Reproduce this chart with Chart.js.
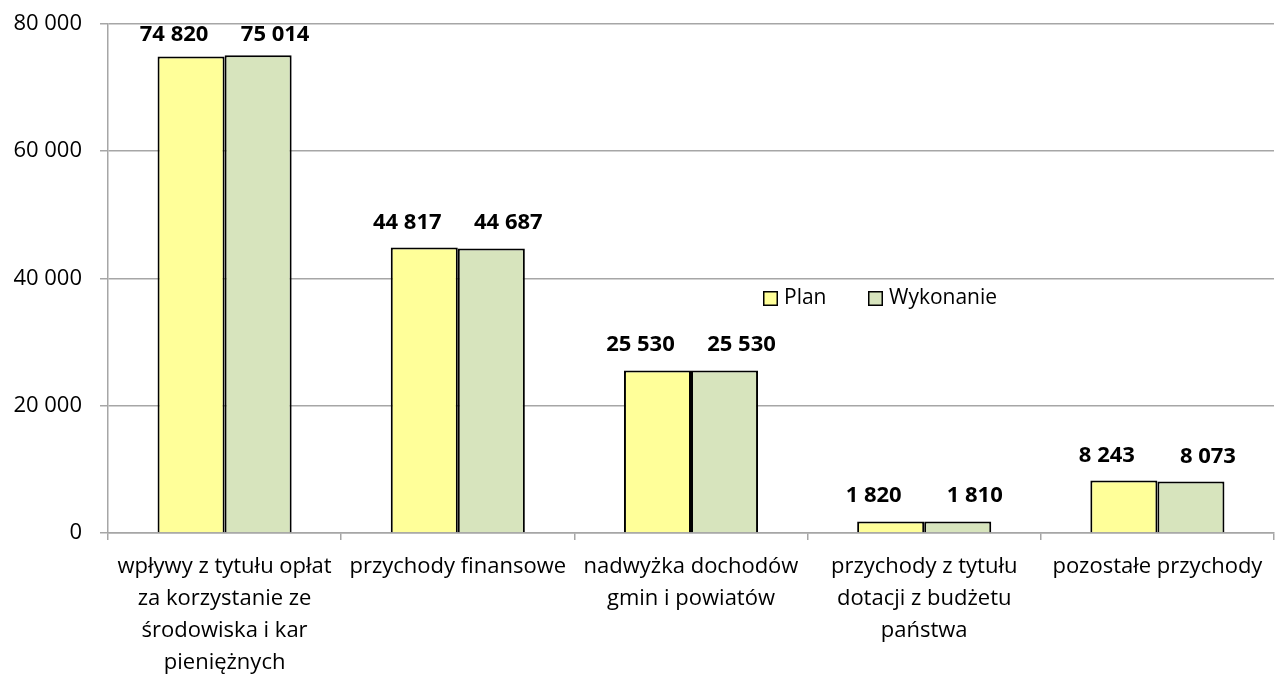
<!DOCTYPE html>
<html><head><meta charset="utf-8">
<script src="https://cdn.jsdelivr.net/npm/chart.js@4.4.1/dist/chart.umd.min.js"></script>
<style>html,body{margin:0;padding:0;background:#fff}#wrap{width:1282px;height:677px}</style>
</head><body><div id="wrap"><canvas id="c" width="1282" height="677"></canvas></div>
<script>
const categories = [
  ["wpływy z tytułu opłat","za korzystanie ze","środowiska i kar","pieniężnych"],
  ["przychody finansowe"],
  ["nadwyżka dochodów","gmin i powiatów"],
  ["przychody z tytułu","dotacji z budżetu","państwa"],
  ["pozostałe przychody"]
];
const planValues = [74820, 44817, 25530, 1820, 8243];
const wykonanieValues = [75014, 44687, 25530, 1810, 8073];
const seriesNames = ["Plan", "Wykonanie"];
const yTicks = [0, 20000, 40000, 60000, 80000];

const fmt = v => String(Math.round(v)).replace(/\B(?=(\d{3})+(?!\d))/g, ' ');
const FONT = "'Open Sans', 'Liberation Sans', sans-serif";

const dataLabels = {
  id: 'dataLabels',
  afterDatasetsDraw(chart) {
    const ctx = chart.ctx;
    const top = chart.chartArea.top;
    ctx.save();
    ctx.font = "bold 22px " + FONT;
    ctx.fillStyle = '#000';
    ctx.textAlign = 'center';
    ctx.textBaseline = 'alphabetic';
    chart.data.datasets.forEach((ds, i) => {
      const shift = i === 0 ? -17 : 17;
      chart.getDatasetMeta(i).data.forEach((bar, j) => {
        const y = Math.max(bar.y - 19, top + 17);
        ctx.fillText(fmt(ds.data[j]), bar.x + shift, y);
      });
    });
    ctx.restore();
  }
};

const innerLegend = {
  id: 'innerLegend',
  afterDraw(chart) {
    const ctx = chart.ctx;
    ctx.save();
    ctx.font = "21px " + FONT;
    ctx.textBaseline = 'middle';
    const y = 298.5;
    const xs = [763, 868];
    chart.data.datasets.forEach((ds, i) => {
      const x = xs[i];
      ctx.fillStyle = ds.backgroundColor;
      ctx.fillRect(x, y - 7.5, 15, 15);
      ctx.strokeStyle = '#000';
      ctx.lineWidth = 1.5;
      ctx.strokeRect(x + 0.75, y - 6.75, 13.5, 13.5);
      ctx.fillStyle = '#000';
      ctx.textAlign = 'left';
      ctx.fillText(ds.label, x + 21, y);
    });
    ctx.restore();
  }
};

new Chart(document.getElementById('c'), {
  type: 'bar',
  data: {
    labels: categories,
    datasets: [
      { label: seriesNames[0], data: planValues, backgroundColor: '#FFFF99', borderColor: '#000', borderWidth: 2 },
      { label: seriesNames[1], data: wykonanieValues, backgroundColor: '#D7E4BD', borderColor: '#000', borderWidth: 2 }
    ]
  },
  options: {
    responsive: false,
    animation: false,
    devicePixelRatio: 1,
    layout: { padding: { left: 0, right: 8, top: 0, bottom: 0 } },
    plugins: { legend: { display: false }, tooltip: { enabled: false } },
    datasets: { bar: { categoryPercentage: 0.575, barPercentage: 1.0 } },
    scales: {
      x: {
        grid: { offset: true, drawOnChartArea: false, drawTicks: true, tickLength: 7, color: '#A6A6A6', lineWidth: 1.5 },
        border: { color: '#A6A6A6', width: 1.5 },
        ticks: { color: '#000', font: { family: FONT, size: 22, lineHeight: 1.45 }, padding: 11, maxRotation: 0, autoSkip: false },
        afterFit(scale) { scale.height = 144; }
      },
      y: {
        min: 0, max: 80000,
        afterBuildTicks(scale) { scale.ticks = yTicks.map(v => ({ value: v })); },
        grid: { color: '#A6A6A6', lineWidth: 1.5, tickLength: 8, drawTicks: true },
        border: { color: '#A6A6A6', width: 1.5 },
        ticks: { color: '#000', font: { family: FONT, size: 22, lineHeight: 0.5 }, padding: 18, callback: v => fmt(v) },
        afterFit(scale) { scale.width = 108; }
      }
    }
  },
  plugins: [dataLabels, innerLegend]
});
</script>
</body></html>
